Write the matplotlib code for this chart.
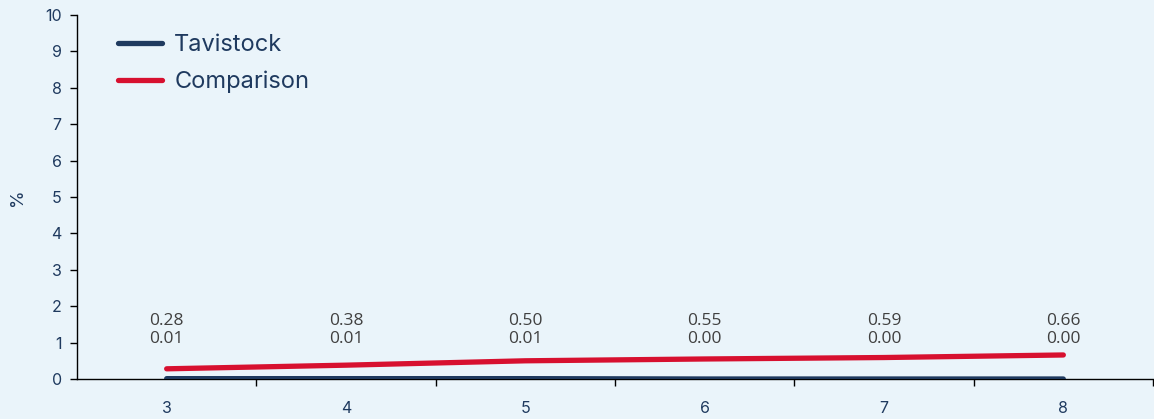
import matplotlib.pyplot as plt

years = [3, 4, 5, 6, 7, 8]
tavistock = [0.01, 0.01, 0.01, 0.00, 0.00, 0.00]
comparison = [0.28, 0.38, 0.50, 0.55, 0.59, 0.66]

bg = '#eaf4fa'
navy = '#1f3a5f'
red = '#d7102f'

fig = plt.figure(figsize=(11.54, 4.19), dpi=100, facecolor=bg)
ax = fig.add_axes([77 / 1154, 40 / 419, 1076 / 1154, 364 / 419], facecolor=bg)

ax.plot(years, tavistock, color=navy, lw=3.8, solid_capstyle='round', label='Tavistock', zorder=3)
ax.plot(years, comparison, color=red, lw=3.8, solid_capstyle='round', label='Comparison', zorder=3)

# value labels: comparison on top, tavistock below
for x, c, t in zip(years, comparison, tavistock):
    ax.text(x, 1.35, f'{c:.2f}\n{t:.2f}', ha='center', va='center', fontsize=12.5,
            color='#404040', family='Open Sans', linespacing=1.2)

ax.set_xlim(2.5, 8.5)
ax.set_ylim(0, 10)
ax.set_yticks(range(0, 11))
ax.set_xticks([y + 0.5 for y in years])
ax.set_xticks(years, minor=True)
ax.set_xticklabels([])
ax.set_xticklabels([str(y) for y in years], minor=True)
ax.tick_params(axis='x', which='minor', length=0, pad=16, labelsize=11.5, labelcolor=navy)
ax.tick_params(axis='x', which='major', length=5, width=1, direction='out')
ax.tick_params(axis='y', length=5, width=1, labelsize=11.5, labelcolor=navy, pad=6)
for lbl in ax.get_xticklabels(minor=True) + ax.get_yticklabels():
    lbl.set_family('Inter')

for s in ['top', 'right']:
    ax.spines[s].set_visible(False)
ax.spines['left'].set_linewidth(1)
ax.spines['bottom'].set_linewidth(1)

ax.set_ylabel('%', fontsize=13, color=navy, family='Inter', labelpad=14)

leg = ax.legend(loc='upper left', bbox_to_anchor=(0.018, 1.005), frameon=False,
                prop={'family': 'Inter', 'size': 17}, handlelength=1.9,
                handletextpad=0.5, labelspacing=0.6)
for t in leg.get_texts():
    t.set_color(navy)

fig.savefig('out.png', dpi=100, facecolor=bg)
